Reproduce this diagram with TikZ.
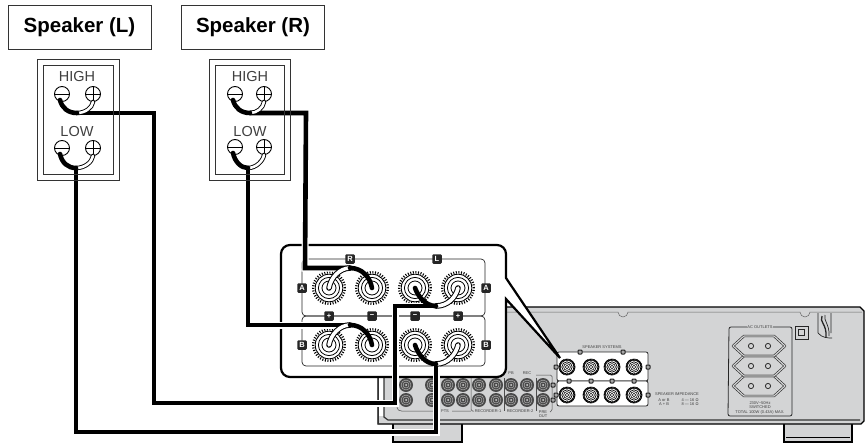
\documentclass[tikz,border=0pt]{standalone}
\usepackage{fontspec}
\setmainfont{Liberation Sans}
\definecolor{ampgray}{HTML}{D3D4D5}
\definecolor{jackdark}{HTML}{4A4A4A}
\tikzset{
  x=1pt,y=-1pt,
  titlebox/.style={draw=black!80,line width=.9pt,fill=white,minimum width=143pt,minimum height=44pt,inner sep=0pt,font=\bfseries\fontsize{20.5}{22}\selectfont},
  spkframe/.style={draw=black!80,line width=.8pt},
  spkword/.style={inner sep=0pt,text=black!75,font=\fontsize{14.5}{15}\selectfont},
  termc/.style={circle,draw=black,line width=.9pt,fill=white,minimum size=15pt,inner sep=0pt},
  wire/.style={line width=4.6pt,black,line join=miter,line cap=butt,preaction={draw=white,line width=7pt,line cap=butt}},
  softwire/.style={line width=4.6pt,black,line cap=round},
  whitewire/.style={line width=.9pt,draw=black,double=white,double distance=2.6pt,line cap=round},
  fatwhitewire/.style={line width=1pt,draw=black,double=white,double distance=3.6pt,line cap=round},
  posthole/.style={circle,minimum size=34pt,inner sep=0pt},
  tag/.style={fill=black!85,rounded corners=1.2pt,minimum size=9.5pt,inner sep=0pt,text=white,font=\bfseries\fontsize{7.5}{8}\selectfont},
  minitag/.style={draw=black!85,line width=1pt,fill=black!35,rounded corners=.8pt,minimum size=4pt,inner sep=0pt},
  tiny/.style={inner sep=0pt,text=black!75,font=\fontsize{4}{5}\selectfont},
  outlet/.style={draw=black!85,line width=.6pt,double=ampgray,double distance=1.2pt,line join=round},
}
\newcommand{\bigpost}[3]{%
  \node[posthole] (#1) at (#2,#3) {};
  \fill[white] (#2,#3) circle (17.5pt);
  \draw[black,line width=2.4pt,dash pattern=on 1pt off 1.6pt] (#2,#3) circle (15.8pt);
  \draw[black,line width=.9pt] (#2,#3) circle (13.8pt);
  \draw[black,line width=.8pt] (#2,#3) circle (10.6pt);
  \draw[black,line width=.8pt] (#2,#3) circle (7pt);
}
\newcommand{\smallpost}[2]{%
  \fill[white] (#1,#2) circle (8.5pt);
  \draw[black,line width=2pt,dash pattern=on .9pt off .4pt] (#1,#2) circle (7.4pt);
  \draw[black,line width=.7pt] (#1,#2) circle (5.2pt);
  \draw[black,line width=.6pt] (#1,#2) circle (3.4pt);
  \draw[black,line width=.6pt] (#1,#2) circle (1.7pt);
}
\newcommand{\jackpost}[2]{%
  \fill[jackdark] (#1,#2) circle (7pt);
  \draw[black!20,line width=.35pt] (#1,#2) circle (5pt);
  \draw[black!20,line width=.35pt] (#1,#2) circle (3pt);
  \fill[black!15] (#1,#2) circle (1pt);
}
\newcommand{\minusterm}[3]{%
  \node[termc] (#1) at (#2,#3) {};
  \draw[line width=.9pt] (#1.west) -- (#1.east);
}
\newcommand{\plusterm}[3]{%
  \node[termc] (#1) at (#2,#3) {};
  \draw[line width=.9pt] (#1.west) -- (#1.east) (#1.north) -- (#1.south);
}
\newcommand{\cabinetframes}{%
  \draw[spkframe] (37,59) rectangle (119,180);
  \draw[spkframe,line width=.7pt] (43,65) rectangle (113,174);
  \draw[spkframe] (209,59) rectangle (290,180);
  \draw[spkframe,line width=.7pt] (215,65) rectangle (284,174);
}
\begin{document}
\begin{tikzpicture}
\fill[white] (0,0) rectangle (865,444);
\useasboundingbox (0,0) rectangle (865,444);

% feet
\draw[line width=1.1pt,fill=ampgray] (393,422) rectangle (462,442);
\draw[line width=1.1pt,fill=ampgray] (784,422) rectangle (852,442);
\draw[line width=.7pt] (786,437) -- (850,437);

% amplifier body
\fill[ampgray] (378,307) -- (860,307) -- (864,311) -- (864,421) -- (861,424) -- (378,424) -- cycle;
\draw[black,line width=1.3pt] (500,307) -- (860,307) -- (864,311) -- (864,421) -- (861,424) -- (378,424) -- (378,370);
\fill[white] (378,377) rectangle (384,416);
\draw[black!80,line width=.9pt] (378,370) -- (378,424);
\draw[black!80,line width=1.2pt] (384,377) -- (384,417) -- (388,420) -- (860,420);
\draw[black!60,line width=.5pt] (500,312) -- (618,312) arc[start angle=180,end angle=360,radius=5pt] -- (800,312) arc[start angle=180,end angle=360,radius=5pt] -- (862,312);

% rear jacks and their labels
\foreach \jx in {406,432,448,463,479,496,511,527,543}{
  \jackpost{\jx}{385}
  \jackpost{\jx}{400}
}
\draw[black!70,line width=.5pt,rounded corners=1.5pt] (397,377) -- (397,409) -- (400,411) -- (438,411);
\draw[black!70,line width=.5pt,rounded corners=1.5pt] (452,411) -- (471,411) (471,378) -- (471,411) -- (474,411);
\draw[black!70,line width=.5pt] (504,378) -- (504,411) (536,378) -- (536,411);
\draw[black!70,line width=.5pt,rounded corners=1.5pt] (536,375) -- (552,375) -- (552,411) -- (550,412);
\node[tiny] (lblpts) at (445,411) {PTS};
\node[tiny] (lblr1) at (488,411) {RECORDER-1};
\node[tiny] (lblr2) at (520,411) {RECORDER-2};
\node[tiny] (lblpb) at (511,373) {PB};
\node[tiny] (lblrec) at (527,373) {REC};
\node[tiny,align=center] (lblpre) at (543,414) {PRE\\[-.5pt]OUT};

% speaker systems block on the rear panel
\draw[black!85,line width=.8pt,fill=white,rounded corners=2pt] (557,352) rectangle (648,381);
\draw[black!85,line width=.8pt,fill=white,rounded corners=2pt] (557,381) rectangle (648,406);
\foreach \sx in {567,591,612,634}{
  \smallpost{\sx}{367}
  \smallpost{\sx}{395}
}
\foreach \sx/\sy in {580/352,623/352,556/367,648/367,556/395,648/395,569/381,591/381,612/381,634/381}{
  \node[minitag] at (\sx,\sy) {};
}
\node[minitag] at (553,385) {};
\node[minitag] at (553,400) {};
\node[tiny] (lblsys) at (602,347) {SPEAKER SYSTEMS};
\node[tiny] (lblimp) at (677,394) {SPEAKER IMPEDANCE};
\node[tiny] (lblab1) at (664,400) {A or B};
\node[tiny] (lblab2) at (664,404.5) {A + B};
\node[tiny] (lblo1) at (690,400) {4 — 16 Ω};
\node[tiny] (lblo2) at (690,404.5) {8 — 16 Ω};

% AC outlets
\draw[black!85,line width=.8pt,rounded corners=2pt] (747,327) -- (729,327) -- (728,416) -- (792,416) -- (792,327) -- (773,327);
\node[tiny] (lblac) at (760,327) {AC OUTLETS};
\foreach \oy in {386,366,346}{
  \draw[outlet] (733,\oy) -- (744,\oy-10) -- (774,\oy-10) -- (785,\oy) -- (774,\oy+10) -- (744,\oy+10) -- cycle;
  \draw[black!85,line width=.8pt] (751,\oy) circle (2.6pt) (768,\oy) circle (2.6pt);
}
\node[tiny] (lblv) at (760,403) {230V\textasciitilde 50Hz};
\node[tiny] (lblsw) at (760,407.5) {SWITCHED};
\node[tiny] (lblmax) at (760,412.5) {TOTAL 100W (0.43A) MAX.};
\draw[black!85,line width=.9pt] (795,326) rectangle (808,339);
\draw[black!85,line width=.8pt] (798.5,329.5) rectangle (804.5,335.5);
% cable clip
\draw[black!85,line width=.7pt] (818,313) -- (818,333) (831,313) -- (831,333) (818,333) .. controls (822,338) and (828,338) .. (832,338);
\draw[black!85,line width=1.3pt] (822,316) .. controls (819,322) and (827,324) .. (826,337);
\draw[black!85,line width=.7pt] (825,315) .. controls (823,320) and (830,325) .. (829,336);

% callout panel
\draw[black,line width=2.2pt,fill=white,line join=miter]
  [rounded corners=9pt] (281,377) -- (281,245) -- (506,245)
  [rounded corners=0pt] -- (506,278) -- (560,358) -- (506,299)
  [rounded corners=9pt] -- (506,377) -- cycle;
\draw[black!85,line width=.7pt,rounded corners=4pt] (302,259) rectangle (485,316);
\draw[black!85,line width=.7pt,rounded corners=4pt] (302,316) rectangle (485,366);
\foreach \lab/\lx/\ly in {R/350/259,L/437/259,A/302/288,A/486/288,B/302/345,B/486/345,+/329/316,−/372/316,−/415/316,+/458/316}{
  \node[tag] at (\lx,\ly) {\lab};
}
\bigpost{pra}{329}{288}
\bigpost{pla}{372}{288}
\bigpost{pma}{415}{288}
\bigpost{pna}{458}{288}
\bigpost{prb}{329}{345}
\bigpost{plb}{372}{345}
\bigpost{pmb}{415}{345}
\bigpost{pnb}{458}{345}

% speaker titles and cabinets
\node[titlebox] (titleL) at (79.5,27) {\raisebox{-1.5pt}{Speaker (L)}};
\node[titlebox] (titleR) at (253,27) {\raisebox{-1.5pt}{Speaker (R)}};
\cabinetframes
\node[spkword] (hl) at (77,76.5) {HIGH};
\node[spkword] (ll) at (77,131.5) {LOW};
\node[spkword] (hr) at (250,76.5) {HIGH};
\node[spkword] (lr) at (250,131.5) {LOW};

\minusterm{lhm}{62}{94}
\plusterm{lhp}{93}{94}
\minusterm{llm}{62}{148}
\plusterm{llp}{93}{148}
\minusterm{rhm}{235}{94}
\plusterm{rhp}{264}{94}
\minusterm{rlm}{235}{147}
\plusterm{rlp}{264}{147}

\coordinate (lhj) at (77,113);
\coordinate (llj) at (76,168);
\coordinate (rhj) at (250,113);
\coordinate (rlj) at (248,168);
\coordinate (praj) at (350,268);
\coordinate (prbj) at (350,325);
\coordinate (pmaj) at (436,306);
\coordinate (pmbj) at (436,364);

% long speaker cables
\draw[wire] (lhj) -- (154,113) -- (154,403) -- (395,403) -- (395,306) -- (pmaj);
\draw[wire] (llj) -- (76,432) -- (436,432) -- (pmbj);
\draw[wire] (rhj) -- (306,113) -- (305,268) -- (praj);
\draw[wire] (rlj) -- (248,325) -- (prbj);
\cabinetframes

% jumper wires at the speakers
\draw[whitewire] (lhp.south) .. controls (92,108) and (85,113) .. (lhj);
\draw[whitewire] (llp.south) .. controls (92,162) and (85,168) .. (llj);
\draw[whitewire] (rhp.south) .. controls (263,108) and (257,113) .. (rhj);
\draw[whitewire] (rlp.south) .. controls (263,161) and (256,168) .. (rlj);
\draw[softwire] (60,100) .. controls (62,108) and (68,113) .. (lhj);
\draw[softwire] (60,154) .. controls (62,163) and (68,168) .. (llj);
\draw[softwire] (233,100) .. controls (235,108) and (241,113) .. (rhj);
\draw[softwire] (233,153) .. controls (235,162) and (241,168) .. (rlj);

% jumper wires at the posts
\draw[fatwhitewire] (pra.center) .. controls (331,277) and (340,268) .. (praj);
\draw[fatwhitewire] (prb.center) .. controls (331,334) and (340,325) .. (prbj);
\draw[fatwhitewire] (pna.center) .. controls (456,297) and (448,306) .. (pmaj);
\draw[fatwhitewire] (pnb.center) .. controls (456,354) and (448,364) .. (pmbj);
\draw[softwire] (pla.center) .. controls (370,277) and (362,268) .. (praj);
\draw[softwire] (plb.center) .. controls (370,334) and (362,325) .. (prbj);
\draw[softwire] (pma.center) .. controls (418,296) and (425,306) .. (pmaj);
\draw[softwire] (pmb.center) .. controls (418,354) and (425,364) .. (pmbj);
\end{tikzpicture}
\end{document}
